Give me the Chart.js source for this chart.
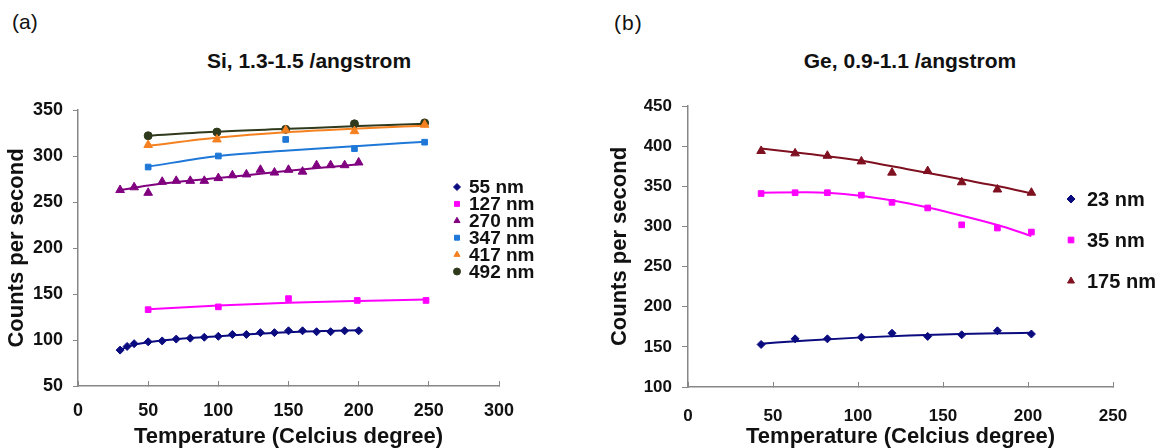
<!DOCTYPE html>
<html><head><meta charset="utf-8">
<script src="https://cdn.jsdelivr.net/npm/chart.js@4.4.1/dist/chart.umd.min.js"></script>
<style>
html,body{margin:0;padding:0;background:#fff;width:1159px;height:448px;overflow:hidden;position:relative;font-family:"Liberation Sans",Arial,sans-serif;color:#111}
.lbl{position:absolute;white-space:nowrap;line-height:1}
.ttl{position:absolute;white-space:nowrap;line-height:1;font-weight:bold;font-size:21px;text-align:center;width:400px}
canvas{position:absolute;top:0}
</style></head><body>
<div class="lbl" style="left:12px;top:11px;font-size:21px">(a)</div>
<div class="lbl" style="left:614px;top:12px;font-size:21px;letter-spacing:1px">(b)</div>
<div class="ttl" style="left:109px;top:50px">Si, 1.3-1.5 /angstrom</div>
<div class="ttl" style="left:710px;top:50px">Ge, 0.9-1.1 /angstrom</div>
<canvas id="si" width="580" height="450" style="left:0"></canvas>
<canvas id="ge" width="559" height="450" style="left:600px"></canvas>
<script>
// ---------- Si panel data ----------
const siLabels = ['55 nm','127 nm','270 nm','347 nm','417 nm','492 nm'];
const siXTicks = [0,50,100,150,200,250,300];
const siYTicks = [50,100,150,200,250,300,350];
const siT55  = [30,35,40,50,60,70,80,90,100,110,120,130,140,150,160,170,180,190,200];
const siC55  = [89,93,96,98,99,101,102,103,104,106,106,108,108,110,110,109,109,110,110];
const siT270 = [30,40,50,60,70,80,90,100,110,120,130,140,150,160,170,180,190,200];
const siC270 = [263,266,260,272,273,273,273,276,279,280,285,282,285,283,290,290,290,293];
const siT127 = [50,100,150,199,248];
const siC127 = [133,136,145,143,143];
const siT347 = [50,100,148,197,247];
const siC347 = [288,300,318,308,315];
const siT417 = [50,99,148,197,247];
const siC417 = [312,318,328,327,334];
const siT492 = [50,99,148,197,247];
const siC492 = [322,326,329,335,336];
// trend lines
const siFitTA = [30,40,50,75,100,125,150,175,200];
const siFit55 = [89.5,95,97.5,101.5,104,106.5,108.5,109.7,110.7];
const siFit270 = [263,265.5,268,272.5,276,280,284,287.5,291];
const siFitTB = [50,100,150,200,248];
const siFit127 = [133.5,137.5,140.5,142.5,144];
const siFit347 = [288.5,300,306,311,315.5];
const siFit417 = [311,320,326,330,333];
const siFit492 = [322,326.5,329.5,332.5,335];

// ---------- Ge panel data ----------
const geLabels = ['23 nm','35 nm','175 nm'];
const geXTicks = [0,50,100,150,200,250];
const geYTicks = [100,150,200,250,300,350,400,450];
const geT   = [43,63,82,102,120,141,161,182,202];
const geC23  = [153,160,160,162,167,163,165,170,166];
const geC35  = [341,342,342,339,330,323,302,298,293];
const geC175 = [394,391,388,381,367,369,355,346,342];
const geFitT = [43,70,100,130,160,185,202];
const geFit23 = [154,158,161.5,164,166,167,167.5];
const geFit35 = [342,342.5,338.5,328.5,314,300,288];
const geFit175 = [397,390.5,382.5,371,359,349,341];

const FONT = '"Liberation Sans", Arial, sans-serif';
const AXIS = '#878787';
const TXT = '#111';

const pts = (xs, ys) => xs.map((x, i) => ({x, y: ys[i]}));

function scatterDs(label, xs, ys, color, style, r) {
  return {type:'scatter', label, data: pts(xs, ys), pointStyle: style, pointRadius: r,
    backgroundColor: color, borderColor: color, borderWidth: 1, showLine: false, order: 0};
}
function lineDs(xs, ys, color) {
  return {type:'line', label: '', data: pts(xs, ys), borderColor: color, borderWidth: 2,
    pointRadius: 0, fill: false, cubicInterpolationMode: 'monotone', order: 1, legendHide: true};
}

const legendPlugin = {
  id: 'customLegend',
  afterDraw(chart, args, opts) {
    const ctx = chart.ctx;
    ctx.save();
    ctx.font = 'bold ' + opts.fontSize + 'px ' + FONT;
    ctx.textBaseline = 'middle';
    ctx.textAlign = 'left';
    let i = 0;
    chart.data.datasets.forEach(ds => {
      if (ds.legendHide) return;
      const y = opts.y + i * opts.spacing;
      ctx.fillStyle = ds.backgroundColor;
      ctx.strokeStyle = ds.borderColor;
      Chart.helpers.drawPoint(ctx, {pointStyle: ds.pointStyle, radius: opts.r, rotation: 0, borderWidth: 1}, opts.x, y);
      ctx.fillStyle = TXT;
      ctx.fillText(ds.label, opts.textX, y + 1);
      i++;
    });
    ctx.restore();
  }
};

function makeScales(cfg) {
  return {
    x: {
      type: 'linear', min: cfg.xTicks[0], max: cfg.xTicks[cfg.xTicks.length - 1],
      afterBuildTicks: s => { s.ticks = cfg.xTicks.map(v => ({value: v})); },
      afterFit: s => { s.height = cfg.xH; },
      ticks: {font: {family: FONT, weight: 'bold', size: cfg.tickSize}, color: TXT, padding: cfg.xPad, maxRotation: 0},
      grid: {display: true, drawOnChartArea: false, drawTicks: true, tickLength: -5, color: AXIS},
      border: {display: true, color: AXIS, width: 1.5},
      title: {display: true, text: 'Temperature (Celcius degree)', color: TXT,
        font: {family: FONT, weight: 'bold', size: 22}, padding: {top: 0, bottom: 0}}
    },
    y: {
      type: 'linear', min: cfg.yTicks[0], max: cfg.yTicks[cfg.yTicks.length - 1],
      afterBuildTicks: s => { s.ticks = cfg.yTicks.map(v => ({value: v})); },
      afterFit: s => { s.width = cfg.yW; },
      ticks: {font: {family: FONT, weight: 'bold', size: cfg.tickSize}, color: TXT, padding: 10},
      grid: {display: true, drawOnChartArea: false, drawTicks: true, tickLength: cfg.yTick, color: AXIS},
      border: {display: true, color: AXIS, width: 1.5},
      title: {display: true, text: 'Counts per second', color: TXT,
        font: {family: FONT, weight: 'bold', size: 22}, padding: {top: cfg.yTitlePad, bottom: 0}}
    }
  };
}

new Chart(document.getElementById('si'), {
  data: {datasets: [
    scatterDs(siLabels[0], siT55, siC55, '#0B0B80', 'rectRot', 4),
    scatterDs(siLabels[1], siT127, siC127, '#FF00FF', 'rect', 4),
    scatterDs(siLabels[2], siT270, siC270, '#800080', 'triangle', 5),
    scatterDs(siLabels[3], siT347, siC347, '#1F78D8', 'rect', 4),
    scatterDs(siLabels[4], siT417, siC417, '#F5801F', 'triangle', 5),
    scatterDs(siLabels[5], siT492, siC492, '#2F3A1C', 'circle', 4),
    lineDs(siFitTA, siFit55, '#0B0B80'),
    lineDs(siFitTB, siFit127, '#FF00FF'),
    lineDs(siFitTA, siFit270, '#800080'),
    lineDs(siFitTB, siFit347, '#1F78D8'),
    lineDs(siFitTB, siFit417, '#F5801F'),
    lineDs(siFitTB, siFit492, '#2F3A1C')
  ]},
  options: {
    responsive: false, animation: false, devicePixelRatio: 1,
    layout: {padding: {left: 0, top: 110, right: 81, bottom: 0}},
    plugins: {legend: {display: false}, tooltip: {enabled: false},
      customLegend: {x: 457, y: 187, spacing: 16.9, textX: 469, fontSize: 19, r: 3.5}},
    scales: makeScales({xTicks: siXTicks, yTicks: siYTicks, xH: 64, yW: 78, tickSize: 18, xPad: 19, yTick: 5, yTitlePad: 4})
  },
  plugins: [legendPlugin]
});

new Chart(document.getElementById('ge'), {
  data: {datasets: [
    scatterDs(geLabels[0], geT, geC23, '#0B0B80', 'rectRot', 4),
    scatterDs(geLabels[1], geT, geC35, '#FF00FF', 'rect', 4),
    scatterDs(geLabels[2], geT, geC175, '#7F1020', 'triangle', 5),
    lineDs(geFitT, geFit23, '#0B0B80'),
    lineDs(geFitT, geFit35, '#FF00FF'),
    lineDs(geFitT, geFit175, '#7F1020')
  ]},
  options: {
    responsive: false, animation: false, devicePixelRatio: 1,
    layout: {padding: {left: 0, top: 106, right: 46, bottom: 0}},
    plugins: {legend: {display: false}, tooltip: {enabled: false},
      customLegend: {x: 471, y: 199, spacing: 41, textX: 487, fontSize: 20, r: 4}},
    scales: makeScales({xTicks: geXTicks, yTicks: geYTicks, xH: 63, yW: 88, tickSize: 17, xPad: 24, yTick: 6, yTitlePad: 7})
  },
  plugins: [legendPlugin]
});
</script>
</body></html>
